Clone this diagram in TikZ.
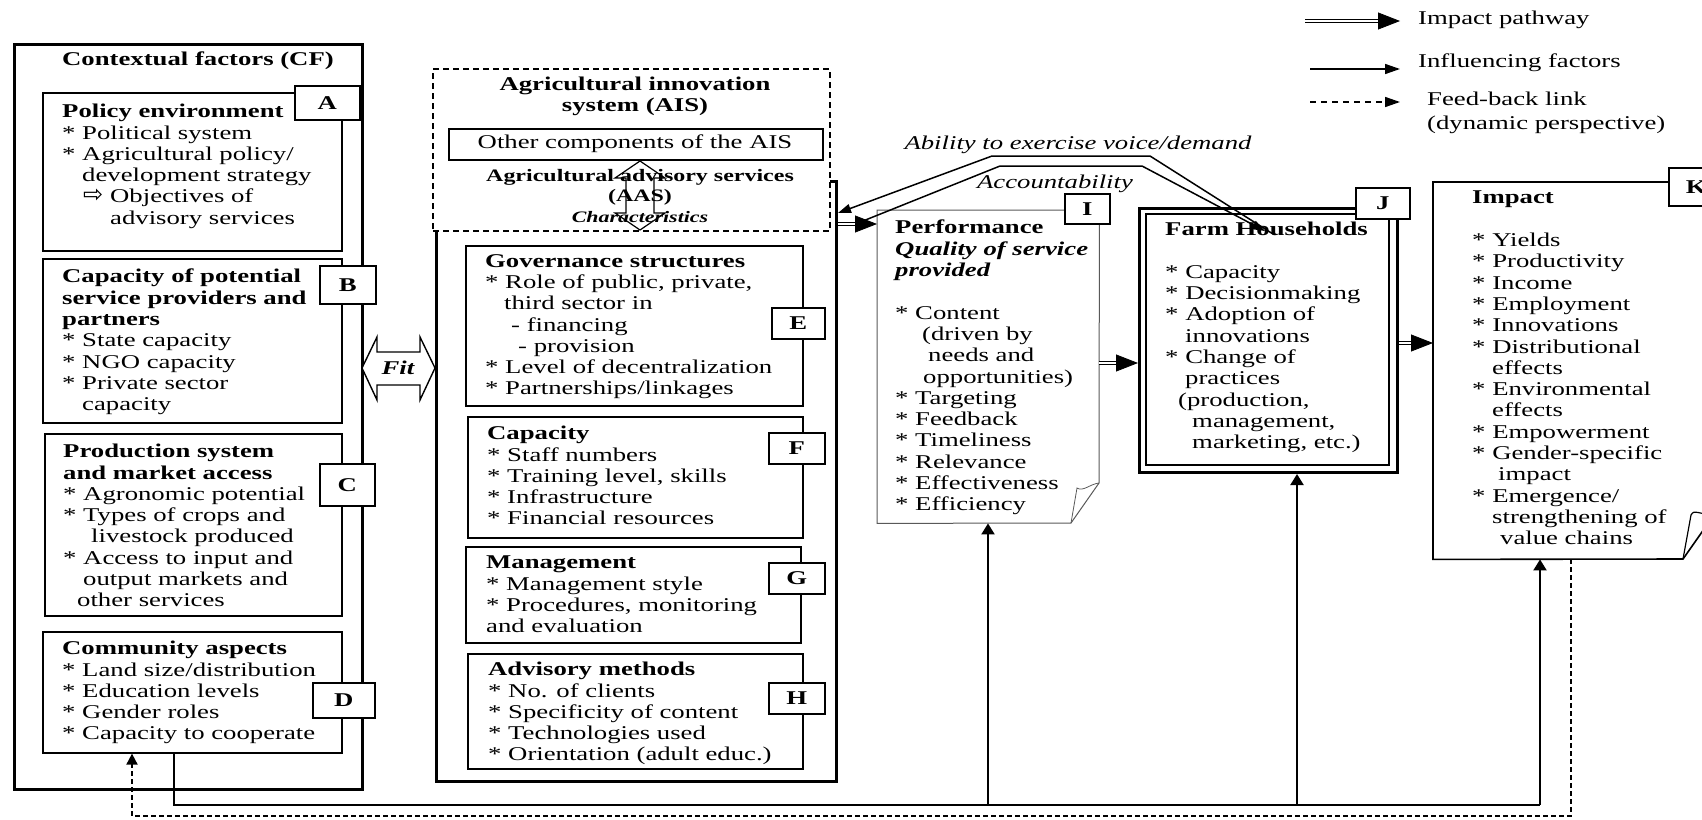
\documentclass[tikz,border=0pt]{standalone}
\usepackage{fontspec}
\setmainfont{Liberation Serif}[FakeStretch=1.37]
\newfontfamily\symf{DejaVu Sans}
\usetikzlibrary{arrows.meta,calc}
\newcommand\fs{\fontsize{19.5}{21.3}\selectfont}
\newcommand\ind[1]{\hspace*{#1pt}}
% [opts]{x1}{y1}{x2}{y2}{name}
\newcommand\rbox[6][]{\node[box,minimum width={(#4-#2)*1pt},minimum height={(#5-#3)*1pt},#1] (#6) at (#2,#3) {};}
% {x1}{y1}{x2}{y2}{name}{text}
\newcommand\lbl[6]{\node[lab,minimum width={(#3-#1)*1pt},minimum height={(#4-#2)*1pt}] (#5) at (#1,#2) {#6};}
\newcommand\imparrow[2]{%
  \draw[impline] (#1) -- ($(#2)!18pt!(#1)$);
  \draw[imphead] ($(#2)!20pt!(#1)$) -- (#2);}
\begin{document}
\begin{tikzpicture}[x=1pt,y=-1pt,
  box/.style={draw,line width=1.6pt,inner sep=0,anchor=north west},
  lab/.style={draw,line width=1.6pt,fill=white,inner sep=0,anchor=north west,font=\fs\bfseries},
  txt/.style={anchor=north west,inner sep=0,align=left,font=\fs},
  impline/.style={double,double distance=2.2pt,line width=1.3pt},
  imphead/.style={line width=0.8pt,-{Triangle[length=22pt,width=17pt]}},
  infl/.style={line width=1.3pt},
  upar/.style={line width=2pt,-{Triangle[length=11pt,width=13pt]}},
  thinar/.style={line width=1.5pt,-{Triangle[length=13pt,width=9pt]}},
  fbk/.style={line width=1.8pt,dash pattern=on 5pt off 3pt,-{Triangle[length=11pt,width=11pt]}},
  hollow/.style={draw,line width=1.4pt}]
\useasboundingbox (0,0) rectangle (1702,819);
\clip (0,0) rectangle (1702,819);

% ---------- Contextual factors ----------
\rbox[line width=3pt]{13}{43}{361}{788}{cf}
\node[txt,font=\fs\bfseries] (cft) at (62,52) {Contextual factors (CF)};

\rbox{42}{92}{341}{250}{boxA}
\node[txt] (tA) at (62,104) {\textbf{Policy environment}\\
* Political system\\
* Agricultural policy/\\
\ind{20}development strategy\\
\ind{21}\makebox[27pt][l]{\fontsize{24}{21.3}\selectfont\symf ⇨}Objectives of\\
\ind{48}advisory services};
\lbl{294}{85}{359}{119}{lA}{A}

\rbox{42}{258}{341}{422}{boxB}
\node[txt] (tB) at (62,269) {\textbf{Capacity of potential}\\
\textbf{service providers and}\\
\textbf{partners}\\
* State capacity\\
* NGO capacity\\
* Private sector\\
\ind{20}capacity};
\lbl{319}{265}{375}{303}{lB}{B}

\rbox{44}{433}{341}{615}{boxC}
\node[txt] (tC) at (63,444) {\textbf{Production system}\\
\textbf{and market access}\\
* Agronomic potential\\
* Types of crops and\\
\ind{28}livestock produced\\
* Access to input and\\
\ind{20}output markets and\\
\ind{14}other services};
\lbl{319}{463}{374}{505}{lC}{C}

\rbox{42}{631}{341}{752}{boxD}
\node[txt] (tD) at (62,641) {\textbf{Community aspects}\\
* Land size/distribution\\
* Education levels\\
* Gender roles\\
* Capacity to cooperate};
\lbl{312}{682}{374}{717}{lD}{D}

% Fit arrow
\draw[hollow,fill=white] (362,368) -- (377,337) -- (377,352) -- (420,352) -- (420,337) -- (435,368)
  -- (420,400) -- (420,385) -- (377,385) -- (377,400) -- cycle;
\node[font=\fs\bfseries\itshape,inner sep=0] (fit) at (398,368) {Fit};

% ---------- AAS / AIS ----------
\rbox[line width=3pt]{435}{180}{835}{780}{aas}
\rbox[dash pattern=on 6pt off 4pt,line width=2pt,fill=white]{432}{68}{829}{230}{ais}
\node[font=\fs\bfseries,align=center,inner sep=0] (aist) at (635,96) {Agricultural innovation\\system (AIS)};
\rbox[line width=1.8pt]{448}{128}{822}{159}{oth}
\node[font=\fs,inner sep=0] (otht) at (635,144) {Other components of the AIS};
\node[font=\fontsize{17.5}{20}\selectfont\bfseries,align=center,inner sep=0] (aast) at (640,187) {Agricultural advisory services\\(AAS)};
\node[font=\fontsize{16}{18}\selectfont\bfseries\itshape,inner sep=0] (chr) at (640,217) {Characteristics};
\draw[hollow,line width=1.2pt] (640,161) -- (665,178) -- (654,178) -- (654,213) -- (665,213) -- (640,230)
  -- (615,213) -- (626,213) -- (626,178) -- (615,178) -- cycle;

\rbox{465}{245}{802}{405}{boxE}
\node[txt] (tE) at (485,254) {\textbf{Governance structures}\\
* Role of public, private,\\
\ind{19}third sector in\\
\ind{26}- financing\\
\ind{33}- provision\\
* Level of decentralization\\
* Partnerships/linkages};
\lbl{771}{307}{824}{338}{lE}{E}

\rbox{467}{416}{802}{537}{boxF}
\node[txt] (tF) at (487,426) {\textbf{Capacity}\\
* Staff numbers\\
* Training level, skills\\
* Infrastructure\\
* Financial resources};
\lbl{768}{432}{824}{463}{lF}{F}

\rbox{465}{546}{800}{642}{boxG}
\node[txt] (tG) at (486,556) {\textbf{Management}\\
* Management style\\
* Procedures, monitoring\\
and evaluation};
\lbl{768}{562}{824}{593}{lG}{G}

\rbox{467}{653}{802}{768}{boxH}
\node[txt] (tH) at (488,662) {\textbf{Advisory methods}\\
* No. of clients\\
* Specificity of content\\
* Technologies used\\
* Orientation (adult educ.)};
\lbl{768}{682}{824}{713}{lH}{H}

% ---------- Performance ----------
\node[inner sep=0,anchor=north west,minimum width=222pt,minimum height=313pt] (perf) at (877,210) {};
\draw[gray!70!black,line width=1pt] (perf.north west) -- (perf.north east) -- (1099,483) -- (1071,523) -- (perf.south west) -- cycle;
\draw[gray!70!black,line width=0.8pt] (1071,523) -- (1077,488) .. controls (1083,492) and (1090,484) .. (1099,483);
\lbl{1064}{193}{1109}{223}{lI}{I}
\node[txt] (tP) at (895,220) {\textbf{Performance}\\
\textbf{\textit{Quality of service}}\\
\textbf{\textit{provided}}\\
\mbox{}\\
* Content\\
\ind{27}(driven by\\
\ind{33}needs and\\
\ind{28}opportunities)\\
* Targeting\\
* Feedback\\
* Timeliness\\
* Relevance\\
* Effectiveness\\
* Efficiency};

% ---------- Farm households ----------
\rbox[line width=3pt]{1138}{207}{1396}{471}{fh}
\draw[line width=1.2pt] (1146,214) rectangle (1389,465);
\lbl{1355}{187}{1409}{218}{lJ}{J}
\node[txt] (tFH) at (1165,222) {\textbf{Farm Households}\\
\mbox{}\\
* Capacity\\
* Decisionmaking\\
* Adoption of\\
\ind{20}innovations\\
* Change of\\
\ind{20}practices\\
\ind{13}(production,\\
\ind{27}management,\\
\ind{27}marketing, etc.)};

% ---------- Impact ----------
\node[inner sep=0,anchor=north west,minimum width=282pt,minimum height=377pt] (imp) at (1433,182) {};
\draw[line width=1.6pt] (1668,182) -- (imp.north west) -- (imp.south west) -- (1683,559) -- (1716,512);
\draw[line width=1.2pt] (1683,559) -- (1691,515) .. controls (1695,508) and (1699,516) .. (1706,512);
\lbl{1668}{167}{1723}{205}{lK}{K}
\node[txt] (tI) at (1472,191) {\textbf{Impact}\\
\mbox{}\\
* Yields\\
* Productivity\\
* Income\\
* Employment\\
* Innovations\\
* Distributional\\
\ind{20}effects\\
* Environmental\\
\ind{20}effects\\
* Empowerment\\
* Gender-specific\\
\ind{26}impact\\
* Emergence/\\
\ind{20}strengthening of\\
\ind{28}value chains};

% ---------- Impact pathway arrows ----------
\coordinate (i1a) at (aas.east |- 0,224);
\coordinate (i1b) at (perf.west |- 0,224);
\coordinate (i2a) at (perf.east |- 0,363);
\coordinate (i2b) at (fh.west |- 0,363);
\coordinate (i3a) at (fh.east |- 0,343);
\coordinate (i3b) at (imp.west |- 0,343);
\imparrow{i1a}{i1b}
\imparrow{i2a}{i2b}
\imparrow{i3a}{i3b}

% voice / accountability
\coordinate (v1) at (1273,234);
\draw[thinar] (v1) -- (1150,156) -- (992,156) -- (aas.east |- 0,213);
\node[font=\fs\itshape,inner sep=0] (voice) at (1078,145) {Ability to exercise voice/demand};
\coordinate (a1) at (858,223);
\draw[thinar] (a1) -- (1000,166) -- (1142,166) -- (1265,231);
\node[font=\fs\itshape,inner sep=0] (acc) at (1055,184) {Accountability};

% ---------- influencing factors (bottom) ----------
\coordinate (bL) at (174,805);
\coordinate (bP) at (988,805);
\coordinate (bF) at (1297,805);
\coordinate (bR) at (1540,805);
\draw[infl] (boxD.south -| bL) -- (bL) -- (bR);
\draw[upar] (bP) -- (bP |- perf.south);
\draw[upar] (bF) -- (bF |- fh.south);
\draw[upar] (bR) -- (bR |- imp.south);

% ---------- feedback ----------
\coordinate (fR) at (1571,816);
\coordinate (fL) at (132,816);
\draw[fbk] (imp.south -| fR) -- (fR) -- (fL) -- (fL |- boxD.south);

% ---------- legend ----------
\coordinate (lg1a) at (1305,21);
\coordinate (lg1b) at (1400,21);
\imparrow{lg1a}{lg1b}
\node[anchor=west,font=\fs,inner sep=0] (lgt1) at (1418,20) {Impact pathway};
\coordinate (lg2a) at (1310,69);
\coordinate (lg2b) at (1400,69);
\draw[line width=1.5pt,-{Triangle[length=15pt,width=10pt]}] (lg2a) -- (lg2b);
\node[anchor=west,font=\fs,inner sep=0] (lgt2) at (1418,63) {Influencing factors};
\coordinate (lg3a) at (1310,102);
\coordinate (lg3b) at (1400,102);
\draw[line width=1.5pt,dash pattern=on 6pt off 5pt,-{Triangle[length=15pt,width=10pt]}] (lg3a) -- (lg3b);
\node[anchor=north west,align=left,font=\fs,inner sep=0] (lgt3) at (1427,92) {Feed-back link\\[2.5pt](dynamic perspective)};
\end{tikzpicture}
\end{document}
